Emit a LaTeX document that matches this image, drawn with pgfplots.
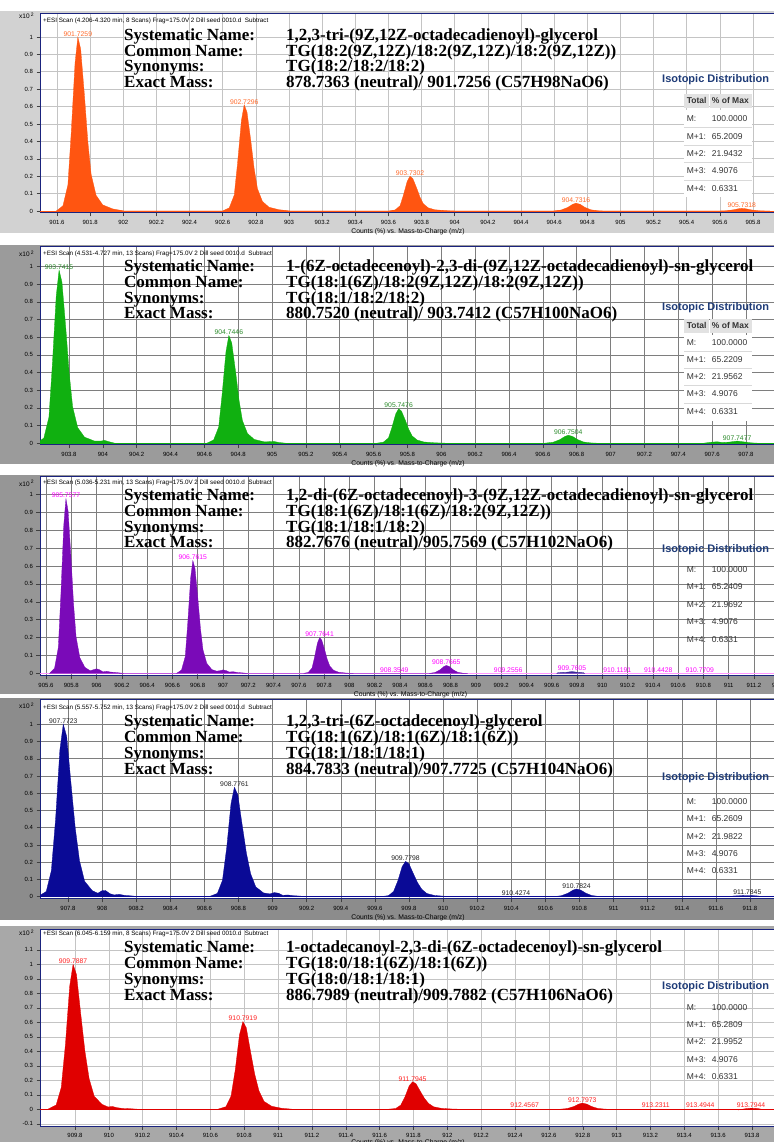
\documentclass[border=0pt]{standalone}
\usepackage{fontspec}
\setmainfont{Liberation Sans}
\newfontfamily\tnr{Liberation Serif}
\usepackage{pgfplots}
\pgfplotsset{compat=1.18}

\definecolor{navyax}{HTML}{1A237E}
\definecolor{c1}{HTML}{FF5511}
\definecolor{l1}{HTML}{FF6A2A}
\definecolor{c2}{HTML}{10B010}
\definecolor{l2}{HTML}{2A8A2A}
\definecolor{c3}{HTML}{7A0AB8}
\definecolor{l3}{HTML}{FF00FF}
\definecolor{b3}{HTML}{FF99FF}
\definecolor{d3}{HTML}{3A2A9A}
\definecolor{c4}{HTML}{0A0A96}
\definecolor{l4}{HTML}{202020}
\definecolor{c5}{HTML}{E00000}
\definecolor{l5}{HTML}{FF2020}
\definecolor{isoblue}{HTML}{1F3C78}
\definecolor{g1}{HTML}{D2D2D2}
\definecolor{g2}{HTML}{9B9B9B}
\definecolor{g3}{HTML}{969696}
\definecolor{g4}{HTML}{8C8C8C}
\definecolor{g5}{HTML}{A8A8A8}
\definecolor{gl}{HTML}{C4C4C4}
\definecolor{gd}{HTML}{7E7E7E}
\definecolor{thd}{HTML}{E2E2E2}

\pgfplotsset{
  spec/.style={
    scale only axis, width=736bp, anchor=south west,
    axis background/.style={fill=white},
    grid=major,
    tick align=outside, major tick length=3.5bp,
    xtick pos=bottom, ytick pos=left,
    axis line style={draw=navyax, line width=1bp},
    tick style={draw=black!75, line width=0.5bp},
    scaled x ticks=false, scaled y ticks=false,
    /pgf/number format/assume math mode=true,
    ticklabel style={font=\fontsize{6bp}{7bp}\selectfont},
    xlabel={Counts (\%) vs. Mass-to-Charge (m/z)},
    xlabel style={font=\fontsize{6.8bp}{7bp}\selectfont, at={(axis description cs:0.5,0)}, anchor=north, yshift=-12bp},
  },
}

\tikzset{
  pk/.style={anchor=south, inner sep=0.5bp, font=\fontsize{6.8bp}{7bp}\selectfont},
  bigt/.style={anchor=base west, inner sep=0pt, font=\tnr\bfseries\fontsize{17bp}{17bp}\selectfont},
  isot/.style={anchor=base west, inner sep=0pt, text=isoblue, font=\bfseries\fontsize{11bp}{11bp}\selectfont},
  tabt/.style={anchor=base west, inner sep=0pt, text=black!80, font=\fontsize{8.5bp}{8.5bp}\selectfont},
  tabh/.style={anchor=base west, inner sep=0pt, text=black!80, font=\bfseries\fontsize{8.5bp}{8.5bp}\selectfont},
  hdr/.style={anchor=west, inner sep=0pt, font=\fontsize{6.3bp}{7bp}\selectfont},
}

\newcommand\infoblock[8]{%
  \node[bigt] at (124bp,#1) {Systematic Name:};
  \node[bigt] at (286bp,#1) {#5};
  \node[bigt] at (124bp,#2) {Common Name:};
  \node[bigt] at (286bp,#2) {#6};
  \node[bigt] at (124bp,#3) {Synonyms:};
  \node[bigt] at (286bp,#3) {#7};
  \node[bigt] at (124bp,#4) {Exact Mass:};
  \node[bigt] at (286bp,#4) {#8};
}
\newcommand\isotab[8]{%
  \node[isot] at (662bp,#1) {Isotopic Distribution};
  \node[tabt] at (686.7bp,#2) {M:};   \node[tabt] at (711.7bp,#2) {100.0000};
  \node[tabt] at (686.7bp,#3) {M+1:}; \node[tabt] at (711.7bp,#3) {#7};
  \node[tabt] at (686.7bp,#4) {M+2:}; \node[tabt] at (711.7bp,#4) {#8};
  \node[tabt] at (686.7bp,#5) {M+3:}; \node[tabt] at (711.7bp,#5) {4.9076};
  \node[tabt] at (686.7bp,#6) {M+4:}; \node[tabt] at (711.7bp,#6) {0.6331};
}
\newcommand\xten[1]{\node[anchor=west, inner sep=0pt, font=\fontsize{6.5bp}{7bp}\selectfont] at (19bp,#1) {x10\,\raisebox{2.5bp}{\fontsize{5bp}{5bp}\selectfont 2}};}

\begin{document}
\begin{tikzpicture}
\useasboundingbox (0bp,0bp) rectangle (774bp,1142bp);
\fill[white] (0bp,0bp) rectangle (774bp,1142bp);
\fill[g1] (0bp,909bp) rectangle (774bp,1131bp);
\fill[g2] (0bp,678bp) rectangle (774bp,897bp);
\fill[g3] (0bp,448bp) rectangle (774bp,667bp);
\fill[g4] (0bp,222bp) rectangle (774bp,444bp);
\fill[g5] (0bp,0bp) rectangle (774bp,216bp);

% ---------------- Panel 1 ----------------
\begin{axis}[spec, at={(40bp,929bp)}, height=199bp,
  xmin=901.4974, xmax=905.9388, ymin=-0.0115, ymax=1.132,
  xtick={901.6,901.8,902,902.2,902.4,902.6,902.8,903,903.2,903.4,903.6,903.8,904,904.2,904.4,904.6,904.8,905,905.2,905.4,905.6,905.8},
  ytick={0,0.1,0.2,0.3,0.4,0.5,0.6,0.7,0.8,0.9,1},
  major grid style={draw=gl, line width=0.6bp}]
\addplot[draw=c1, line width=0.8bp] coordinates {(901.40,0) (906.00,0)};
\addplot[draw=c1, fill=c1, line width=0.3bp] coordinates {
(901.5959,0) (901.6359,0.03) (901.6659,0.15) (901.6859,0.45) (901.7089,0.85) (901.7259,1) (901.7429,0.93) (901.7659,0.66) (901.7859,0.40) (901.8059,0.21) (901.8359,0.09) (901.8759,0.035) (901.9359,0.012) (902.0059,0)
(902.5996,0) (902.6396,0.0183) (902.6696,0.0915) (902.6896,0.2745) (902.7126,0.5185) (902.7296,0.61) (902.7466,0.5673) (902.7696,0.4026) (902.7896,0.244) (902.8096,0.1281) (902.8396,0.0549) (902.8796,0.0214) (902.9396,0.0073) (903.0096,0)
(903.6002,0) (903.6402,0.006) (903.6702,0.03) (903.6902,0.09) (903.7132,0.17) (903.7302,0.20) (903.7472,0.186) (903.7702,0.132) (903.7902,0.08) (903.8102,0.042) (903.8402,0.018) (903.8802,0.007) (903.9402,0.0024) (904.0102,0)
(904.5916,0) (904.6416,0.0054) (904.6816,0.02025) (904.7116,0.03825) (904.7316,0.045) (904.7566,0.03825) (904.7866,0.02025) (904.8216,0.00675) (904.8616,0.0018) (904.9016,0)
(905.5918,0) (905.6418,0.0018) (905.6818,0.00675) (905.7118,0.01275) (905.7318,0.015) (905.7568,0.01275) (905.7868,0.00675) (905.8218,0.00225) (905.8618,0.0006) (905.9018,0)
} -- cycle;
\node[pk, text=l1] at (axis cs:901.7259,1) {901.7259};
\node[pk, text=l1] at (axis cs:902.7296,0.61) {902.7296};
\node[pk, text=l1] at (axis cs:903.7302,0.20) {903.7302};
\node[pk, text=l1] at (axis cs:904.7316,0.045) {904.7316};
\node[pk, text=l1] at (axis cs:905.7318,0.015) {905.7318};
\end{axis}
\xten{1126bp}
\node[hdr] at (43bp,1121bp) {+ESI Scan (4.206-4.320 min, 8 Scans) Frag=175.0V 2 Dill seed 0010.d\ \ Subtract};
\infoblock{1101.5bp}{1085.9bp}{1070.3bp}{1054.7bp}{1,2,3-tri-(9Z,12Z-octadecadienoyl)-glycerol}{TG(18:2(9Z,12Z)/18:2(9Z,12Z)/18:2(9Z,12Z))}{TG(18:2/18:2/18:2)}{878.7363 (neutral)/ 901.7256 (C57H98NaO6)}
\fill[white] (684bp,945bp) rectangle (752bp,1032bp);
\fill[thd] (684bp,1034bp) rectangle (709bp,1048bp);
\fill[thd] (710bp,1034bp) rectangle (752bp,1048bp);
\foreach \yy in {1014.7,997,979.5,962} {\draw[black!15, line width=0.5bp] (684bp,\yy bp) -- (752bp,\yy bp);}
\node[tabh] at (686.7bp,1038bp) {Total};
\node[tabh] at (711.7bp,1038bp) {\% of Max};
\isotab{1059bp}{1020.7bp}{1002.7bp}{985bp}{968bp}{950.7bp}{65.2009}{21.9432}

% ---------------- Panel 2 ----------------
\begin{axis}[spec, at={(40bp,697bp)}, height=198.5bp,
  xmin=903.6287, xmax=907.9773, ymin=-0.0102, ymax=1.114,
  xtick={903.8,904,904.2,904.4,904.6,904.8,905,905.2,905.4,905.6,905.8,906,906.2,906.4,906.6,906.8,907,907.2,907.4,907.6,907.8},
  ytick={0,0.1,0.2,0.3,0.4,0.5,0.6,0.7,0.8,0.9,1},
  major grid style={draw=gd, line width=0.6bp}]
\addplot[draw=c2, line width=0.8bp] coordinates {(903.5,0) (908.1,0)};
\addplot[draw=c2, fill=c2, line width=0.3bp] coordinates {
(903.6115,0) (903.6515,0.0294) (903.6815,0.147) (903.7015,0.441) (903.7245,0.833) (903.7415,0.98) (903.7585,0.9114) (903.7815,0.6468) (903.8015,0.392) (903.8215,0.2058) (903.8515,0.0882) (903.8915,0.0343) (903.9515,0.0118) (903.99,0.012) (904.01,0.016) (904.03,0.01) (904.07,0)
(904.6146,0) (904.6546,0.0183) (904.6846,0.0915) (904.7046,0.2745) (904.7276,0.5185) (904.7446,0.61) (904.7616,0.5673) (904.7846,0.4026) (904.8046,0.244) (904.8246,0.1281) (904.8546,0.0549) (904.8946,0.0214) (904.9546,0.0073) (904.99,0.009) (905.01,0.01) (905.04,0.004) (905.08,0)
(905.6176,0) (905.6576,0.00585) (905.6876,0.02925) (905.7076,0.08775) (905.7306,0.16575) (905.7476,0.195) (905.7646,0.18135) (905.7876,0.1287) (905.8076,0.078) (905.8276,0.04095) (905.8576,0.01755) (905.8976,0.00683) (905.9576,0.00234) (906.0276,0)
(906.6104,0) (906.6604,0.0054) (906.7004,0.02025) (906.7304,0.03825) (906.7504,0.045) (906.7754,0.03825) (906.8054,0.02025) (906.8404,0.00675) (906.8804,0.0018) (906.9204,0)
(907.55,0) (907.60,0.006) (907.63,0.008) (907.66,0.004) (907.70,0.006) (907.7477,0.012) (907.79,0.007) (907.83,0.002) (907.87,0)
} -- cycle;
\node[pk, text=l2] at (axis cs:903.7415,0.98) {903.7415};
\node[pk, text=l2] at (axis cs:904.7446,0.61) {904.7446};
\node[pk, text=l2] at (axis cs:905.7476,0.195) {905.7476};
\node[pk, text=l2] at (axis cs:906.7504,0.045) {906.7504};
\node[pk, text=l2] at (axis cs:907.7477,0.012) {907.7477};
\end{axis}
\xten{888bp}
\node[hdr] at (43bp,888bp) {+ESI Scan (4.531-4.727 min, 13 Scans) Frag=175.0V 2 Dill seed 0010.d\ \ Subtract};
\infoblock{870bp}{854.4bp}{838.8bp}{823.2bp}{1-(6Z-octadecenoyl)-2,3-di-(9Z,12Z-octadecadienoyl)-sn-glycerol}{TG(18:1(6Z)/18:2(9Z,12Z)/18:2(9Z,12Z))}{TG(18:1/18:2/18:2)}{880.7520 (neutral)/ 903.7412 (C57H100NaO6)}
\fill[white] (684bp,721bp) rectangle (752bp,807bp);
\fill[thd] (684bp,809bp) rectangle (709bp,823bp);
\fill[thd] (710bp,809bp) rectangle (752bp,823bp);
\foreach \yy in {790.5,773.5,756.5,739} {\draw[black!15, line width=0.5bp] (684bp,\yy bp) -- (752bp,\yy bp);}
\node[tabh] at (686.7bp,813bp) {Total};
\node[tabh] at (711.7bp,813bp) {\% of Max};
\isotab{831bp}{796bp}{779bp}{762bp}{745bp}{727bp}{65.2209}{21.9562}

% ---------------- Panel 3 ----------------
\begin{axis}[spec, at={(40bp,466bp)}, width=741bp, height=199.3bp,
  xmin=905.5525, xmax=911.4136, ymin=-0.014, ymax=1.098,
  xtick={905.6,905.8,906,906.2,906.4,906.6,906.8,907,907.2,907.4,907.6,907.8,908,908.2,908.4,908.6,908.8,909,909.2,909.4,909.6,909.8,910,910.2,910.4,910.6,910.8,911,911.2,911.4},
  ytick={0,0.1,0.2,0.3,0.4,0.5,0.6,0.7,0.8,0.9,1},
  major grid style={draw=gd, line width=0.6bp}]
\addplot[draw=b3, line width=1.5bp] coordinates {(905.5,0) (911.5,0)};
\addplot[draw=c3, fill=c3, line width=0.3bp] coordinates {
(905.6277,0) (905.6677,0.02925) (905.6977,0.14625) (905.7177,0.43875) (905.7407,0.82875) (905.7577,0.975) (905.7747,0.90675) (905.7977,0.6435) (905.8177,0.39) (905.8377,0.20475) (905.8677,0.08775) (905.9077,0.0341) (905.95,0.015) (905.98,0.022) (906.0,0.026) (906.025,0.02) (906.05,0.009) (906.08,0.012) (906.11,0.008) (906.16,0.005) (906.22,0)
(906.6315,0) (906.6715,0.0189) (906.7015,0.0945) (906.7215,0.2835) (906.7445,0.5355) (906.7615,0.63) (906.7785,0.5859) (906.8015,0.4158) (906.8215,0.252) (906.8415,0.1323) (906.8715,0.0567) (906.9115,0.02205) (906.95,0.013) (906.98,0.016) (907.0,0.02) (907.025,0.016) (907.05,0.008) (907.08,0.01) (907.11,0.006) (907.16,0.003) (907.2,0)
(907.6341,0) (907.6741,0.006) (907.7041,0.03) (907.7241,0.09) (907.7471,0.17) (907.7641,0.2) (907.7811,0.186) (907.8041,0.132) (907.8241,0.08) (907.8441,0.042) (907.8741,0.018) (907.9141,0.007) (907.9741,0.0024) (908.0441,0)
(908.6265,0) (908.6765,0.0054) (908.7165,0.02025) (908.7465,0.03825) (908.7665,0.045) (908.7915,0.03825) (908.8215,0.02025) (908.8565,0.00675) (908.8965,0.0018) (908.9365,0)
} -- cycle;
\addplot[draw=d3, fill=d3, line width=0.3bp] coordinates {
(909.64,0) (909.65,0.005) (909.72,0.007) (909.7605,0.011) (909.80,0.007) (909.85,0.005) (909.86,0)
} -- cycle;
\node[pk, text=l3] at (axis cs:905.7577,0.975) {905.7577};
\node[pk, text=l3] at (axis cs:906.7615,0.63) {906.7615};
\node[pk, text=l3] at (axis cs:907.7641,0.2) {907.7641};
\node[pk, text=l3] at (axis cs:908.7665,0.045) {908.7665};
\node[pk, text=l3] at (axis cs:909.7605,0.011) {909.7605};
\node[pk, text=l3] at (axis cs:908.3549,0.004) {908.3549};
\node[pk, text=l3] at (axis cs:909.2556,0.004) {909.2556};
\node[pk, text=l3] at (axis cs:910.1191,0.004) {910.1191};
\node[pk, text=l3] at (axis cs:910.4428,0.004) {910.4428};
\node[pk, text=l3] at (axis cs:910.7709,0.004) {910.7709};
\end{axis}
\xten{658.7bp}
\node[hdr] at (43bp,658.7bp) {+ESI Scan (5.036-5.231 min, 13 Scans) Frag=175.0V 2 Dill seed 0010.d\ \ Subtract};
\infoblock{641bp}{625.4bp}{609.8bp}{594.2bp}{1,2-di-(6Z-octadecenoyl)-3-(9Z,12Z-octadecadienoyl)-sn-glycerol}{TG(18:1(6Z)/18:1(6Z)/18:2(9Z,12Z))}{TG(18:1/18:1/18:2)}{882.7676 (neutral)/905.7569 (C57H102NaO6)}
\isotab{589bp}{569bp}{552bp}{534bp}{517bp}{499bp}{65.2409}{21.9692}

% ---------------- Panel 4 ----------------
\begin{axis}[spec, at={(40bp,243bp)}, height=199bp,
  xmin=907.6358, xmax=911.9525, ymin=-0.0133, ymax=1.141,
  xtick={907.8,908,908.2,908.4,908.6,908.8,909,909.2,909.4,909.6,909.8,910,910.2,910.4,910.6,910.8,911,911.2,911.4,911.6,911.8},
  ytick={0,0.1,0.2,0.3,0.4,0.5,0.6,0.7,0.8,0.9,1},
  major grid style={draw=gd, line width=0.6bp}]
\addplot[draw=c4, line width=0.8bp] coordinates {(907.5,0) (912.1,0)};
\addplot[draw=c4, fill=c4, line width=0.3bp] coordinates {
(907.6223,0) (907.6723,0.03) (907.7023,0.15) (907.7273,0.45) (907.7523,0.85) (907.7723,1) (907.7923,0.93) (907.8173,0.66) (907.8423,0.40) (907.8673,0.21) (907.8973,0.09) (907.9423,0.035) (907.975,0.02) (908.0,0.035) (908.02,0.036) (908.045,0.018) (908.07,0.01) (908.10,0.014) (908.13,0.008) (908.18,0.004) (908.22,0)
(908.6261,0) (908.6761,0.01905) (908.7061,0.09525) (908.7311,0.28575) (908.7561,0.53975) (908.7761,0.635) (908.7961,0.59055) (908.8211,0.4191) (908.8461,0.254) (908.8711,0.13335) (908.9011,0.05715) (908.9461,0.02223) (908.985,0.016) (909.01,0.024) (909.035,0.02) (909.06,0.008) (909.09,0.01) (909.12,0.006) (909.17,0.003) (909.21,0)
(909.6298,0) (909.6798,0.00615) (909.7098,0.03075) (909.7348,0.09225) (909.7598,0.17425) (909.7798,0.205) (909.7998,0.19065) (909.8248,0.1353) (909.8498,0.082) (909.8748,0.04305) (909.9048,0.01845) (909.9498,0.00718) (910.0098,0.00246) (910.0798,0)
(910.6424,0) (910.6924,0.0054) (910.7324,0.02025) (910.7624,0.03825) (910.7824,0.045) (910.8074,0.03825) (910.8374,0.02025) (910.8724,0.00675) (910.9124,0.0018) (910.9524,0)
(911.69,0) (911.70,0.004) (911.75,0.006) (911.7845,0.007) (911.82,0.006) (911.85,0.004) (911.86,0)
} -- cycle;
\node[pk, text=l4] at (axis cs:907.7723,1) {907.7723};
\node[pk, text=l4] at (axis cs:908.7761,0.635) {908.7761};
\node[pk, text=l4] at (axis cs:909.7798,0.205) {909.7798};
\node[pk, text=l4] at (axis cs:910.7824,0.045) {910.7824};
\node[pk, text=l4] at (axis cs:911.7845,0.007) {911.7845};
\node[pk, text=l4] at (axis cs:910.4274,0.004) {910.4274};
\end{axis}
\xten{436bp}
\node[hdr] at (43bp,434bp) {+ESI Scan (5.557-5.752 min, 13 Scans) Frag=175.0V 2 Dill seed 0010.d\ \ Subtract};
\infoblock{415bp}{399.2bp}{383.4bp}{367.6bp}{1,2,3-tri-(6Z-octadecenoyl)-glycerol}{TG(18:1(6Z)/18:1(6Z)/18:1(6Z))}{TG(18:1/18:1/18:1)}{884.7833 (neutral)/907.7725 (C57H104NaO6)}
\isotab{361bp}{337bp}{320bp}{302.5bp}{285bp}{268bp}{65.2609}{21.9822}

% ---------------- Panel 5 ----------------
\begin{axis}[spec, at={(40bp,16bp)}, height=196bp,
  xmin=909.5932, xmax=913.9418, ymin=-0.115, ymax=1.2366,
  xtick={909.8,910,910.2,910.4,910.6,910.8,911,911.2,911.4,911.6,911.8,912,912.2,912.4,912.6,912.8,913,913.2,913.4,913.6,913.8},
  ytick={-0.1,0,0.1,0.2,0.3,0.4,0.5,0.6,0.7,0.8,0.9,1,1.1},
  xlabel style={yshift=1.5bp},
  major grid style={draw=gl, line width=0.6bp}]
\addplot[draw=c5, line width=0.8bp] coordinates {(909.5,0) (914.0,0)};
\addplot[draw=c5, fill=c5, line width=0.3bp] coordinates {
(909.6387,0) (909.6887,0.03) (909.7187,0.15) (909.7437,0.45) (909.7687,0.85) (909.7887,1) (909.8087,0.93) (909.8337,0.66) (909.8587,0.40) (909.8837,0.21) (909.9137,0.09) (909.9587,0.035) (909.995,0.016) (910.02,0.02) (910.045,0.012) (910.08,0.006) (910.13,0.004) (910.18,0)
(910.6419,0) (910.6919,0.01815) (910.7219,0.09075) (910.7469,0.27225) (910.7719,0.51425) (910.7919,0.605) (910.8119,0.56265) (910.8369,0.3993) (910.8619,0.242) (910.8869,0.12705) (910.9169,0.05445) (910.9619,0.02118) (911.0219,0.00726) (911.0919,0)
(911.6445,0) (911.6945,0.0057) (911.7245,0.0285) (911.7495,0.0855) (911.7745,0.1615) (911.7945,0.19) (911.8145,0.1767) (911.8395,0.1254) (911.8645,0.076) (911.8895,0.0399) (911.9195,0.0171) (911.9645,0.00665) (912.0245,0.00228) (912.0945,0)
(912.6573,0) (912.7073,0.00516) (912.7473,0.01935) (912.7773,0.03655) (912.7973,0.043) (912.8223,0.03655) (912.8523,0.01935) (912.8873,0.00645) (912.9273,0.00172) (912.9673,0)
(913.70,0) (913.72,-0.004) (913.76,0.004) (913.7944,0.008) (913.83,0.006) (913.86,0)
} -- cycle;
\node[pk, text=l5] at (axis cs:909.7887,1) {909.7887};
\node[pk, text=l5] at (axis cs:910.7919,0.605) {910.7919};
\node[pk, text=l5] at (axis cs:911.7945,0.19) {911.7945};
\node[pk, text=l5] at (axis cs:912.7973,0.043) {912.7973};
\node[pk, text=l5] at (axis cs:913.7944,0.008) {913.7944};
\node[pk, text=l5] at (axis cs:912.4567,0.004) {912.4567};
\node[pk, text=l5] at (axis cs:913.2311,0.004) {913.2311};
\node[pk, text=l5] at (axis cs:913.4944,0.004) {913.4944};
\end{axis}
\xten{209bp}
\node[hdr] at (43bp,208bp) {+ESI Scan (6.045-6.159 min, 8 Scans) Frag=175.0V 2 Dill seed 0010.d\ \ Subtract};
\infoblock{189bp}{173.2bp}{157.4bp}{141.6bp}{1-octadecanoyl-2,3-di-(6Z-octadecenoyl)-sn-glycerol}{TG(18:0/18:1(6Z)/18:1(6Z))}{TG(18:0/18:1/18:1)}{886.7989 (neutral)/909.7882 (C57H106NaO6)}
\isotab{152bp}{131.5bp}{114.5bp}{97bp}{79.5bp}{62bp}{65.2809}{21.9952}
\end{tikzpicture}
\end{document}
